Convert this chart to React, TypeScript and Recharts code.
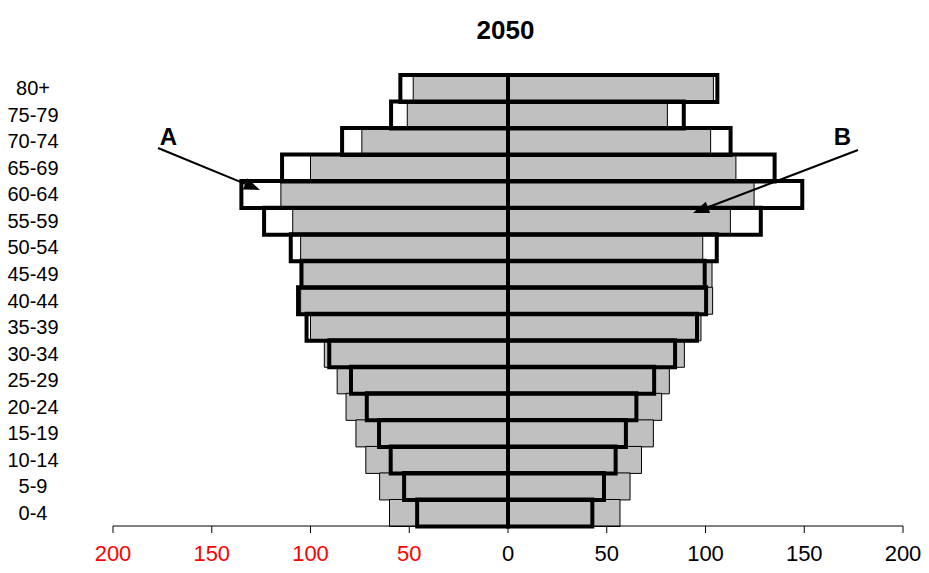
import React from 'react';
import { BarChart, Bar, XAxis, YAxis } from 'recharts';

const ages = ['80+', '75-79', '70-74', '65-69', '60-64', '55-59', '50-54', '45-49', '40-44', '35-39', '30-34', '25-29', '20-24', '15-19', '10-14', '5-9', '0-4'];
const leftGray = [48, 51, 74, 100, 115, 109, 105, 104, 105, 100, 93, 86.5, 82, 77, 72, 65, 60];
const leftOutline = [54.5, 59.2, 84, 114.4, 135, 123.5, 110, 104.6, 106.3, 102, 90.5, 79.5, 71.5, 65.3, 59.4, 52.6, 46];
const rightGray = [104, 80.7, 102.6, 115.4, 124.6, 112.6, 98.6, 103.3, 103.6, 97.7, 89.3, 81.7, 77.8, 73.6, 67.6, 61.8, 56.7];
const rightOutline = [106, 89, 112.7, 135, 149, 128, 105.7, 99.6, 100.3, 95.7, 84.6, 74, 65, 59.7, 54.5, 48.6, 42.7];
const xTicks = [-200, -150, -100, -50, 0, 50, 100, 150, 200];
const title = '2050';

const data = ages.map((age, i) => ({
  age,
  gL: -leftGray[i],
  gR: rightGray[i],
  oL: -leftOutline[i],
  oR: rightOutline[i],
}));

const FONT = '"Liberation Sans", Arial, sans-serif';

const XTick = (props: any) => {
  const { x, y, payload } = props;
  const v = payload.value as number;
  return (
    <text x={x} y={y + 26} textAnchor="middle" fontSize={22} fontFamily={FONT} fill={v < 0 ? '#FF0000' : '#000'}>
      {Math.abs(v)}
    </text>
  );
};

const YTick = (props: any) => {
  const { y, payload } = props;
  return (
    <text x={33} y={y + 7} textAnchor="middle" fontSize={20} fontFamily={FONT} fill="#000">
      {payload.value}
    </text>
  );
};

const Arrow = ({ x1, y1, x2, y2 }: { x1: number; y1: number; x2: number; y2: number }) => {
  const dx = x2 - x1;
  const dy = y2 - y1;
  const len = Math.sqrt(dx * dx + dy * dy);
  const ux = dx / len;
  const uy = dy / len;
  const hl = 16;
  const hw = 6;
  const bx = x2 - ux * hl;
  const by = y2 - uy * hl;
  const pts = `${x2},${y2} ${bx - uy * hw},${by + ux * hw} ${bx + uy * hw},${by - ux * hw}`;
  return (
    <g>
      <line x1={x1} y1={y1} x2={bx} y2={by} stroke="#000" strokeWidth={2} />
      <polygon points={pts} fill="#000" />
    </g>
  );
};

export default function App() {
  return (
    <div style={{ position: 'absolute', left: 0, top: 0, width: 929, height: 573, background: '#fff' }}>
      <BarChart
        width={929}
        height={573}
        data={data}
        layout="vertical"
        stackOffset="sign"
        barCategoryGap={0}
        barGap={0}
        margin={{ top: 75, right: 26, left: 0, bottom: 0 }}
      >
        <XAxis
          type="number"
          domain={[-200, 200]}
          ticks={xTicks}
          interval={0}
          allowDataOverflow
          height={47}
          tickSize={7}
          axisLine={{ stroke: '#000', strokeWidth: 1 }}
          tickLine={{ stroke: '#000', strokeWidth: 1 }}
          tick={<XTick />}
        />
        <YAxis
          yAxisId="g"
          type="category"
          dataKey="age"
          width={113}
          interval={0}
          axisLine={false}
          tickLine={false}
          tick={<YTick />}
        />
        <YAxis yAxisId="o" type="category" dataKey="age" hide />
        <Bar dataKey="gL" stackId="g" yAxisId="g" fill="#C0C0C0" stroke="#000" strokeWidth={1} isAnimationActive={false} />
        <Bar dataKey="gR" stackId="g" yAxisId="g" fill="#C0C0C0" stroke="#000" strokeWidth={1} isAnimationActive={false} />
        <Bar dataKey="oL" stackId="o" yAxisId="o" fill="none" stroke="#000" strokeWidth={4} isAnimationActive={false} />
        <Bar dataKey="oR" stackId="o" yAxisId="o" fill="none" stroke="#000" strokeWidth={4} isAnimationActive={false} />
      </BarChart>
      <svg width={929} height={573} style={{ position: 'absolute', left: 0, top: 0, pointerEvents: 'none' }}>
        <text x={505.5} y={39} textAnchor="middle" fontSize={26} fontWeight="bold" fontFamily={FONT} fill="#000">
          {title}
        </text>
        <text x={168.5} y={145} textAnchor="middle" fontSize={24} fontWeight="bold" fontFamily={FONT} fill="#000">
          A
        </text>
        <text x={842.5} y={144.5} textAnchor="middle" fontSize={24} fontWeight="bold" fontFamily={FONT} fill="#000">
          B
        </text>
        <Arrow x1={158} y1={148} x2={260} y2={190} />
        <Arrow x1={858} y1={150} x2={693} y2={213} />
      </svg>
    </div>
  );
}
